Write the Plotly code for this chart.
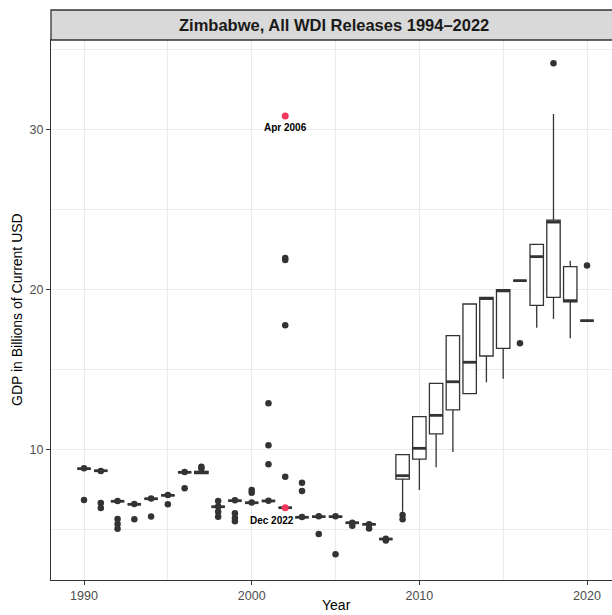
import plotly.graph_objects as go

# GDP of Zimbabwe (billions of current USD) as reported across WDI releases
years = list(range(1990, 2021))

q1 = [8.79, 8.66, 6.75, 6.56, 6.91, 7.12, 8.56, 8.48, 6.41, 6.79,
      6.66, 6.77, 6.35, 5.75, 5.79, 5.79, 5.41, 5.31, 4.39, 8.14,
      9.39, 10.96, 12.46, 13.48, 15.83, 16.31, 20.54, 19.00, 19.50, 19.22,
      18.04]
median = [8.79, 8.66, 6.75, 6.56, 6.91, 7.12, 8.56, 8.56, 6.41, 6.79,
          6.66, 6.77, 6.35, 5.75, 5.79, 5.79, 5.41, 5.31, 4.39, 8.35,
          10.06, 12.12, 14.22, 15.44, 19.42, 19.90, 20.54, 22.04, 24.20, 19.29,
          18.04]
q3 = [8.79, 8.66, 6.75, 6.56, 6.91, 7.12, 8.56, 8.62, 6.41, 6.79,
      6.66, 6.77, 6.35, 5.75, 5.79, 5.79, 5.41, 5.31, 4.39, 9.66,
      12.04, 14.12, 17.10, 19.08, 19.50, 19.98, 20.54, 22.81, 24.32, 21.41,
      18.04]
lower_whisker = [8.79, 8.66, 6.75, 6.56, 6.91, 7.12, 8.56, 8.45, 6.41, 6.79,
                 6.66, 6.77, 6.35, 5.75, 5.79, 5.79, 5.41, 5.31, 4.39, 6.10,
                 7.46, 8.88, 9.83, 13.48, 14.19, 14.41, 20.54, 17.60, 18.14, 16.94,
                 18.04]
upper_whisker = [8.79, 8.66, 6.75, 6.56, 6.91, 7.12, 8.56, 8.62, 6.41, 6.79,
                 6.66, 6.77, 6.35, 5.75, 5.79, 5.79, 5.41, 5.31, 4.39, 9.66,
                 12.04, 14.12, 17.10, 19.12, 19.50, 19.98, 20.54, 22.81, 30.96, 21.79,
                 18.04]

# Outlying releases per year
outlier_years = [
    1990, 1990,
    1991, 1991, 1991,
    1992, 1992, 1992, 1992,
    1993, 1993,
    1994, 1994,
    1995, 1995,
    1996, 1996,
    1997, 1997,
    1998, 1998, 1998, 1998,
    1999, 1999, 1999, 1999,
    2000, 2000, 2000,
    2001, 2001, 2001, 2001,
    2002, 2002, 2002, 2002,
    2003, 2003, 2003,
    2004, 2004,
    2005, 2005,
    2006, 2006,
    2007, 2007,
    2008, 2008,
    2009, 2009,
    2016,
    2018,
    2020,
]
outlier_values = [
    8.82, 6.83,
    8.64, 6.64, 6.33,
    6.77, 5.64, 5.33, 5.03,
    6.58, 5.62,
    6.93, 5.80,
    7.14, 6.56,
    8.58, 7.56,
    8.91, 8.80,
    6.43, 6.77, 6.10, 5.79,
    6.81, 6.00, 5.70, 5.50,
    6.68, 7.46, 7.28,
    6.79, 12.87, 10.25, 9.06,
    8.29, 17.75, 21.95, 21.83,
    5.77, 7.91, 7.39,
    5.81, 4.71,
    5.81, 3.44,
    5.41, 5.22,
    5.31, 5.05,
    4.41, 4.30,
    5.90, 5.62,
    16.63,
    34.13,
    21.48,
]

# Highlighted releases
highlight_years = [2002, 2002]
highlight_values = [30.83, 6.35]
highlight_labels = ["Apr 2006", "Dec 2022"]
highlight_shift = [(0, -11), (-13, -13)]

title_text = "Zimbabwe, All WDI Releases 1994\u20132022"
x_title = "Year"
y_title = "GDP in Billions of Current USD"
x_ticks = [1990, 2000, 2010, 2020]
y_ticks = [10, 20, 30]

INK = "#333333"
GRID = "#EBEBEB"
FONT = "Liberation Sans, Arial, Helvetica, sans-serif"
BOX_W = 0.8

fig = go.Figure()

fig.add_trace(go.Box(
    x=years, q1=q1, median=median, q3=q3,
    lowerfence=lower_whisker, upperfence=upper_whisker,
    boxpoints=False, width=BOX_W, whiskerwidth=0,
    fillcolor="white", line=dict(color=INK, width=1.3),
    showlegend=False, hoverinfo="skip",
))

# thicker median bars
mx, my = [], []
for yr, m in zip(years, median):
    mx += [yr - BOX_W / 2, yr + BOX_W / 2, None]
    my += [m, m, None]
fig.add_trace(go.Scatter(
    x=mx, y=my, mode="lines", line=dict(color=INK, width=2.8),
    showlegend=False, hoverinfo="skip",
))

fig.add_trace(go.Scatter(
    x=outlier_years, y=outlier_values, mode="markers",
    marker=dict(color=INK, size=6.5, line=dict(width=0)),
    showlegend=False,
))

fig.add_trace(go.Scatter(
    x=highlight_years, y=highlight_values, mode="markers",
    marker=dict(color="#F2385F", size=7, line=dict(width=0)),
    showlegend=False,
))

for yr, val, lab, (dx, dy) in zip(highlight_years, highlight_values,
                                   highlight_labels, highlight_shift):
    fig.add_annotation(
        x=yr, y=val, text=f"<b>{lab}</b>", showarrow=False,
        xshift=dx, yshift=dy, font=dict(family=FONT, size=10, color="black"),
    )

# strip header above the panel
fig.add_shape(type="rect", xref="paper", yref="paper",
              x0=0, x1=1.05, y0=1, y1=1 + 30 / 540,
              fillcolor="#D9D9D9", line=dict(color=INK, width=1.3), layer="above")
fig.add_annotation(
    xref="paper", yref="paper", x=(334 - 51) / 561, y=1 + 15 / 540,
    text=f"<b>{title_text}</b>", showarrow=False, yanchor="middle",
    font=dict(family=FONT, size=16.5, color="#1A1A1A"),
)

# axis titles
fig.add_annotation(
    xref="paper", yref="paper", x=(336 - 51) / 561, y=(580 - 605) / 540,
    text=x_title, showarrow=False, yanchor="middle",
    font=dict(family=FONT, size=14, color="black"),
)
fig.add_annotation(
    xref="paper", yref="paper", x=(17 - 51) / 561, y=0.5,
    text=y_title, showarrow=False, textangle=-90, xanchor="center",
    font=dict(family=FONT, size=14, color="black"),
)

fig.update_layout(
    width=612, height=615,
    margin=dict(l=51, r=0, t=40, b=35),
    paper_bgcolor="white", plot_bgcolor="white",
    font=dict(family=FONT),
    xaxis=dict(
        range=[1988.03, 2021.49], tickvals=x_ticks, ticks="outside", ticklen=4,
        tickcolor=INK, tickfont=dict(size=12.5, color="#4D4D4D"),
        showgrid=True, gridcolor=GRID, gridwidth=1, zeroline=False,
        showline=True, linecolor=INK, linewidth=1.3, mirror=True,
        minor=dict(tickvals=[1995, 2005, 2015], showgrid=True,
                   gridcolor=GRID, gridwidth=0.6),
    ),
    yaxis=dict(
        range=[1.83, 35.58], tickvals=y_ticks, ticks="outside", ticklen=4,
        tickcolor=INK, tickfont=dict(size=12.5, color="#4D4D4D"),
        showgrid=True, gridcolor=GRID, gridwidth=1, zeroline=False,
        showline=True, linecolor=INK, linewidth=1.3,
        minor=dict(tickvals=[5, 15, 25, 35], showgrid=True,
                   gridcolor=GRID, gridwidth=0.6),
    ),
)

fig.write_html("out.html")
